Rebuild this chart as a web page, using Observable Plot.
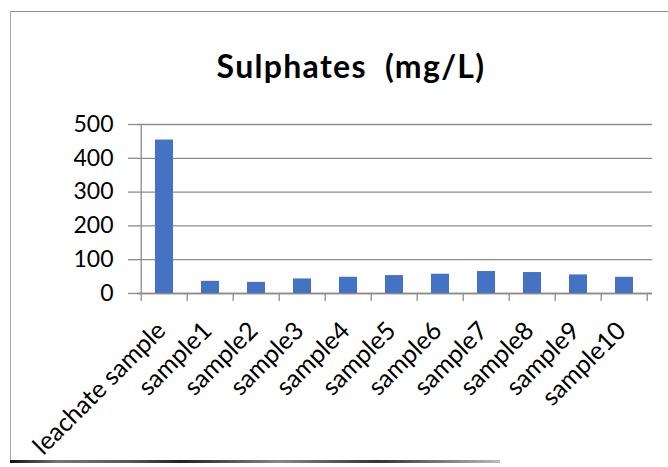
<!DOCTYPE html>
<html>
<head>
<meta charset="utf-8">
<script src="https://cdn.jsdelivr.net/npm/d3@7"></script>
<script src="https://cdn.jsdelivr.net/npm/@observablehq/plot@0.6"></script>
<style>
  html, body { margin: 0; padding: 0; background: #fff; }
  #wrap { position: relative; width: 668px; height: 467px; overflow: hidden; font-family: Lato, "Open Sans", sans-serif; }
  #frame { position: absolute; left: 10px; top: 11px; width: 700px; height: 451px; border-left: 1.5px solid #a6a6a6; border-top: 1.5px solid #8c8c8c; }
  #smudge { position: absolute; left: 10px; top: 460px; width: 490px; height: 3px;
    background: linear-gradient(90deg, #111 0%, #777 10%, #555 25%, #222 35%, #888 55%, #333 75%, #bbb 100%); }
  #title { position: absolute; left: 0; top: 47px; width: 702px; text-align: center; font-weight: 700; font-size: 32px; letter-spacing: 1.3px; line-height: 1.2; color: #000; white-space: pre; }
  #chart { position: absolute; left: 0; top: 100px; }
</style>
</head>
<body>
<div id="wrap">
  <div id="frame"></div>
  <div id="smudge"></div>
  <div id="title">Sulphates  (mg/L)</div>
  <div id="chart"></div>
</div>
<script>
const categories = ["leachate sample", "sample1", "sample2", "sample3", "sample4", "sample5", "sample6", "sample7", "sample8", "sample9", "sample10"];
const values = [454, 36, 33, 43, 48, 53, 57, 65, 62, 55, 48];
const yTicks = [0, 100, 200, 300, 400, 500];

const data = categories.map((c, i) => ({category: c, value: values[i]}));

const chart = Plot.plot({
  width: 668,
  height: 367,
  marginTop: 24,
  marginLeft: 137,
  marginRight: 16,
  marginBottom: 174,
  style: {fontFamily: "Lato, 'Open Sans', sans-serif", background: "transparent", color: "#000"},
  x: {domain: categories, paddingInner: 0.6, paddingOuter: 0.3, label: null},
  y: {domain: [0, 500], label: null},
  marks: [
    Plot.gridY(yTicks, {stroke: "#8c8c8c", strokeOpacity: 1, strokeWidth: 1.3}),
    Plot.ruleY([0], {stroke: "#8c8c8c", strokeWidth: 1.3}),
    Plot.axisY(yTicks, {tickSize: 9, tickPadding: 15, fontSize: 23, stroke: "#8c8c8c", strokeWidth: 1.3, fill: "#000", tickFormat: d => String(d)}),
    Plot.barY(data, {x: "category", y: "value", fill: "#4472C4"}),
    Plot.axisX({tickSize: 0, tickRotate: -45, fontSize: 25, fill: "#000", tickPadding: 0, textAnchor: "end", dx: -3, dy: 33})
  ]
});
document.getElementById("chart").appendChild(chart);

// axis line and band-boundary ticks drawn with the chart's own scales
const xs = chart.scale("x");
const ys = chart.scale("y");
const svg = d3.select(chart);
const stepPx = xs.step;
const left0 = xs.apply(categories[0]) - stepPx * 0.3;
const edges = d3.range(categories.length + 1).map(i => left0 + i * stepPx);
const y0 = ys.apply(0), yTop = ys.apply(500);
svg.append("line").attr("x1", edges[0]).attr("x2", edges[0]).attr("y1", yTop).attr("y2", y0 + 8)
  .attr("stroke", "#8c8c8c").attr("stroke-width", 1.3);
svg.selectAll(".xt").data(edges.slice(1)).join("line")
  .attr("x1", d => d).attr("x2", d => d).attr("y1", y0).attr("y2", y0 + 8)
  .attr("stroke", "#8c8c8c").attr("stroke-width", 1.3);
</script>
</body>
</html>
